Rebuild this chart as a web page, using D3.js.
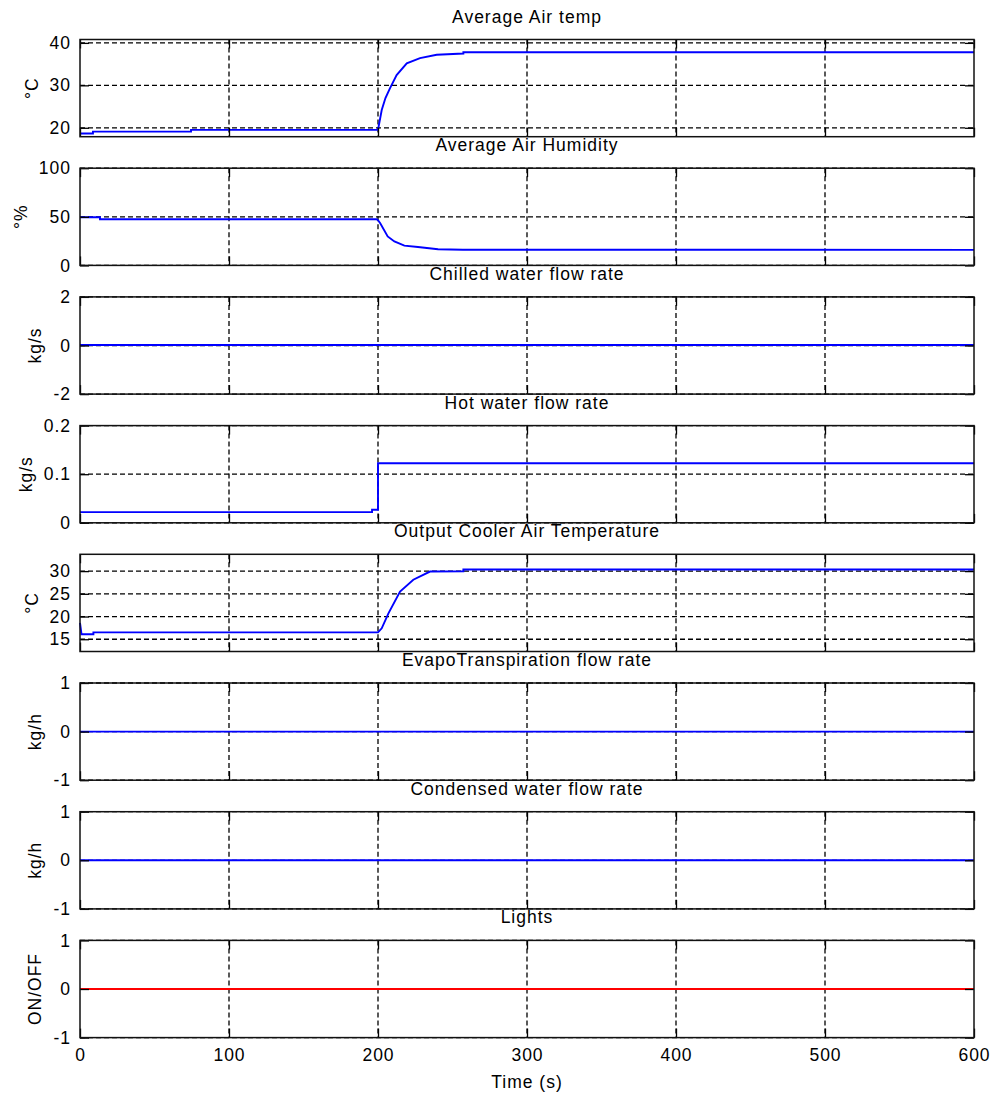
<!DOCTYPE html>
<html>
<head>
<meta charset="utf-8">
<script src="https://cdn.jsdelivr.net/npm/d3@7"></script>
<style>
  html, body { margin: 0; padding: 0; background: #fff; }
  svg { display: block; }
  text { font-family: "Liberation Sans", Arial, Helvetica, sans-serif; font-size: 17.5px; letter-spacing: 1px; fill: #000; }
</style>
</head>
<body>
<svg id="chart" width="992" height="1095"></svg>
<script>
// ---------------- DATA ----------------
const titles = ["Average Air temp", "Average Air Humidity", "Chilled water flow rate", "Hot water flow rate",
  "Output Cooler Air Temperature", "EvapoTranspiration flow rate", "Condensed water flow rate", "Lights"];
const yLabels = ["°C", "°%", "kg/s", "kg/s", "°C", "kg/h", "kg/h", "ON/OFF"];
const yDomains = [[17.9, 40.8], [0, 100], [-2, 2], [0, 0.2], [12.3, 33.7], [-1, 1], [-1, 1], [-1, 1]];
const yTickValues = [[20, 30, 40], [0, 50, 100], [-2, 0, 2], [0, 0.1, 0.2], [15, 20, 25, 30], [-1, 0, 1], [-1, 0, 1], [-1, 0, 1]];
const yTickLabels = [["20", "30", "40"], ["0", "50", "100"], ["-2", "0", "2"], ["0", "0.1", "0.2"], ["15", "20", "25", "30"], ["-1", "0", "1"], ["-1", "0", "1"], ["-1", "0", "1"]];
const xTicks = [0, 100, 200, 300, 400, 500, 600];
const xLabel = "Time (s)";

const tempTime = [0, 8.7, 8.7, 74.5, 74.5, 200, 202.5, 205, 208, 212.5, 219.3, 228.2, 239.4, 257.3, 257.3, 600];
const tempVal  = [18.65, 18.65, 19.1, 19.1, 19.5, 19.5, 24.2, 27.0, 29.3, 32.4, 35.2, 36.4, 37.2, 37.5, 37.8, 37.8];

const humTime = [0, 13.4, 13.4, 199, 200, 201.5, 206.5, 211, 217.7, 226.8, 240.3, 257, 600];
const humVal  = [49.5, 49.5, 47.5, 47.5, 46.5, 43.4, 29.8, 24.7, 20.3, 19.0, 16.6, 16.1, 16.0];

const chillTime = [0, 600];
const chillVal  = [0.02, 0.02];

const hotTime = [0, 196, 196, 200, 200, 600];
const hotVal  = [0.022, 0.022, 0.027, 0.027, 0.1225, 0.1225];

const coolTime = [0, 1, 9, 9, 200, 202.5, 207, 214.8, 223.7, 234.9, 257.3, 257.3, 600];
const coolVal  = [18.6, 16.1, 16.1, 16.5, 16.5, 17.4, 20.7, 25.5, 28.1, 29.9, 29.95, 30.35, 30.35];

const evapTime = [0, 600];
const evapVal  = [0, 0];

const condTime = [0, 600];
const condVal  = [0, 0];

const lightTime = [0, 600];
const lightVal  = [0, 0];

const seriesTimes = [tempTime, humTime, chillTime, hotTime, coolTime, evapTime, condTime, lightTime];
const seriesVals  = [tempVal, humVal, chillVal, hotVal, coolVal, evapVal, condVal, lightVal];
const seriesColors = ["#0000ff", "#0000ff", "#0000ff", "#0000ff", "#0000ff", "#0000ff", "#0000ff", "#ff0000"];

// ---------------- LAYOUT ----------------
const svg = d3.select("#chart");
const L = 80, R = 974;
const top0 = 39.5, step = 128.7, H = 97.2;
const tickLen = 9;

const x = d3.scaleLinear().domain([0, 600]).range([L, R]);

titles.forEach((title, i) => {
  const top = top0 + step * i;
  const bottom = top + H;
  const y = d3.scaleLinear().domain(yDomains[i]).range([bottom, top]);
  const g = svg.append("g");

  // grid
  const grid = g.append("g").attr("stroke", "#000").attr("stroke-width", 1.3)
    .attr("stroke-dasharray", "5,3");
  grid.selectAll("line.v").data(xTicks.slice(1, -1)).join("line")
    .attr("x1", d => x(d)).attr("x2", d => x(d)).attr("y1", top).attr("y2", bottom);
  grid.selectAll("line.h").data(yTickValues[i]).join("line")
    .attr("x1", L).attr("x2", R).attr("y1", d => y(d)).attr("y2", d => y(d));

  // data line
  const pts = seriesTimes[i].map((t, k) => [t, seriesVals[i][k]]);
  g.append("path").datum(pts)
    .attr("fill", "none").attr("stroke", seriesColors[i]).attr("stroke-width", 1.9)
    .attr("d", d3.line().x(d => x(d[0])).y(d => y(d[1])));

  // axes with inward ticks
  const labels = yTickLabels[i];
  const yl = g.append("g").attr("transform", `translate(${L},0)`)
    .call(d3.axisLeft(y).tickValues(yTickValues[i]).tickSize(-tickLen).tickPadding(9)
      .tickFormat((d, k) => labels[k]));
  g.append("g").attr("transform", `translate(${R},0)`)
    .call(d3.axisRight(y).tickValues(yTickValues[i]).tickSize(-tickLen).tickFormat(""));
  g.append("g").attr("transform", `translate(0,${top})`)
    .call(d3.axisTop(x).tickValues(xTicks).tickSize(-tickLen).tickFormat(""));
  g.append("g").attr("transform", `translate(0,${bottom})`)
    .call(d3.axisBottom(x).tickValues(xTicks).tickSize(-tickLen).tickPadding(11)
      .tickFormat(i === titles.length - 1 ? d3.format("d") : ""));
  g.selectAll(".domain").remove();
  g.selectAll(".tick line").attr("stroke", "#000").attr("stroke-width", 1.3);
  g.selectAll(".tick text").attr("fill", "#000");
  g.selectAll("g").attr("font-family", null).attr("font-size", null);

  // frame
  g.append("rect").attr("x", L).attr("y", top).attr("width", R - L).attr("height", H)
    .attr("fill", "none").attr("stroke", "#111").attr("stroke-width", 1.5);

  // title
  g.append("text").attr("x", (L + R) / 2).attr("y", top - 17).attr("text-anchor", "middle").text(title);

  // y label, placed left of widest tick label
  let maxW = 0;
  yl.selectAll(".tick text").each(function () { maxW = Math.max(maxW, this.getBBox().width); });
  const lx = L - 9 - maxW - 12;
  g.append("text").attr("transform", `translate(${lx},${(top + bottom) / 2}) rotate(-90)`)
    .attr("text-anchor", "middle").text(yLabels[i]);

  if (i === titles.length - 1) {
    svg.append("text").attr("x", (L + R) / 2).attr("y", 1088).attr("text-anchor", "middle").text(xLabel);
  }
});
</script>
</body>
</html>
